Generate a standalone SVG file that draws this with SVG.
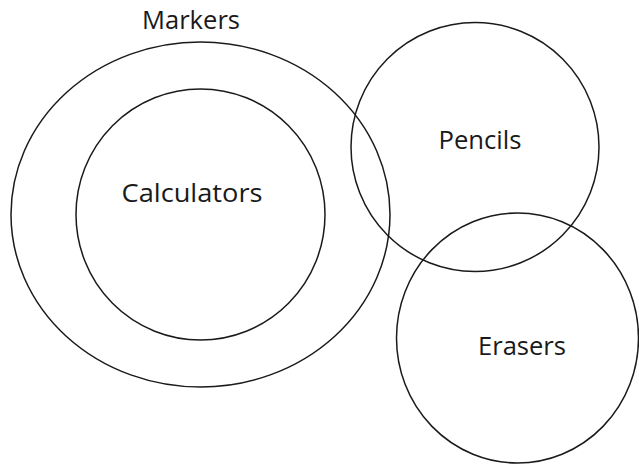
<svg xmlns="http://www.w3.org/2000/svg" width="639" height="464" viewBox="0 0 639 464">
<style>
.set{fill:none;stroke:#1a1a1a;stroke-width:1.5}
.lbl{font-family:"Open Sans","Liberation Sans",Arial,sans-serif;font-size:25px;fill:#1a1a1a;text-anchor:middle}
</style>
<rect width="639" height="464" fill="#ffffff"/>
<g id="markers">
<ellipse class="set" cx="200.5" cy="214.5" rx="189.5" ry="172.5"/>
<text class="lbl" x="191" y="28.5" textLength="98" lengthAdjust="spacingAndGlyphs">Markers</text>
</g>
<g id="calculators">
<ellipse class="set" cx="200.5" cy="214.5" rx="124.5" ry="125.5"/>
<text class="lbl" x="192" y="202.3" textLength="141" lengthAdjust="spacingAndGlyphs">Calculators</text>
</g>
<g id="pencils">
<ellipse class="set" cx="475" cy="147" rx="124" ry="124.5"/>
<text class="lbl" x="480" y="149.3" textLength="83" lengthAdjust="spacingAndGlyphs">Pencils</text>
</g>
<g id="erasers">
<ellipse class="set" cx="517.5" cy="338" rx="121" ry="125"/>
<text class="lbl" x="522" y="355" textLength="88" lengthAdjust="spacingAndGlyphs">Erasers</text>
</g>
<g id="connectors"/>
</svg>
